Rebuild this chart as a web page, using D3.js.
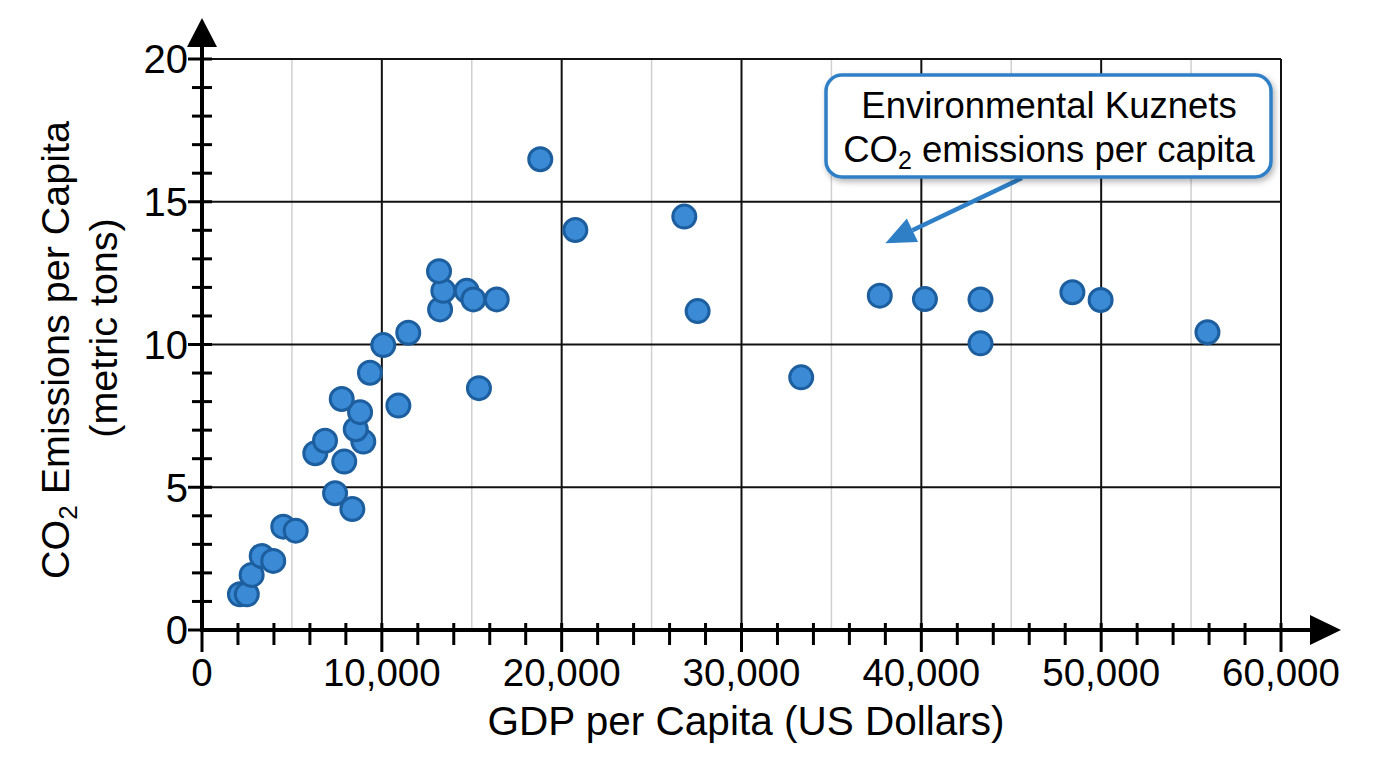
<!DOCTYPE html>
<html>
<head>
<meta charset="utf-8">
<script src="https://cdn.jsdelivr.net/npm/d3@7"></script>
<style>
  body { margin: 0; background: #fff; }
  text { font-family: "Liberation Sans", Arial, Helvetica, sans-serif; fill: #000; }
</style>
</head>
<body>
<svg id="chart" width="1376" height="768"></svg>
<script>
// GDP per capita (US$) and CO2 per capita (metric tons)
var gdp = [2110, 2490, 2760, 3320, 3960, 4520, 5210, 7400, 8360, 7910,
           6300, 6840, 8970, 8550, 8790, 7770, 10920, 9340, 10080, 11470,
           13240, 13420, 14720, 15090, 16390, 15400, 13180, 18810, 20760, 26820,
           27560, 33320, 37690, 40200, 43290, 43290, 48400, 49970, 55910];
var co2 = [1.25, 1.25, 1.93, 2.59, 2.42, 3.62, 3.48, 4.79, 4.24, 5.90,
           6.19, 6.63, 6.60, 7.03, 7.63, 8.09, 7.86, 9.01, 9.98, 10.41,
           11.23, 11.88, 11.88, 11.58, 11.58, 8.47, 12.57, 16.49, 14.01, 14.48,
           11.17, 8.85, 11.71, 11.59, 11.58, 10.04, 11.83, 11.56, 10.43];

var xMajorTicks = [0, 10000, 20000, 30000, 40000, 50000, 60000];
var xMinorTicks = d3.range(0, 60001, 2000);
var xHalfLines  = [5000, 15000, 25000, 35000, 45000, 55000];
var yMajorTicks = [0, 5, 10, 15, 20];
var yMinorTicks = d3.range(0, 21, 1);

var annotationLines = ["Environmental Kuznets", "CO", "2", " emissions per capita"];
var annotationTip = [38000, 13.55];   // where the callout arrow points

var svg = d3.select("#chart");

var x = d3.scaleLinear().domain([0, 60000]).range([202, 1281]);
var y = d3.scaleLinear().domain([0, 20]).range([630, 59]);
var fmt = d3.format(",");

// light half-step grid
svg.append("g").selectAll("line")
    .data(xHalfLines)
    .enter().append("line")
    .attr("x1", function(d) { return x(d); })
    .attr("x2", function(d) { return x(d); })
    .attr("y1", y(20)).attr("y2", y(0))
    .style("stroke", "#d0d0d0")
    .style("stroke-width", 1.5);

// major grid
svg.append("g").selectAll("line")
    .data(xMajorTicks.slice(1))
    .enter().append("line")
    .attr("x1", function(d) { return x(d); })
    .attr("x2", function(d) { return x(d); })
    .attr("y1", y(20)).attr("y2", y(0))
    .style("stroke", "#111")
    .style("stroke-width", 2);
svg.append("g").selectAll("line")
    .data(yMajorTicks.slice(1))
    .enter().append("line")
    .attr("x1", x(0)).attr("x2", x(60000))
    .attr("y1", function(d) { return y(d); })
    .attr("y2", function(d) { return y(d); })
    .style("stroke", "#111")
    .style("stroke-width", 2);

// axes lines + arrow heads
svg.append("line")
    .attr("x1", x(0)).attr("x2", 1318)
    .attr("y1", y(0)).attr("y2", y(0))
    .style("stroke", "#000").style("stroke-width", 4);
svg.append("path")
    .attr("d", "M1341," + y(0) + "L1310," + (y(0) - 15) + "L1310," + (y(0) + 15) + "Z")
    .style("fill", "#000");
svg.append("line")
    .attr("x1", x(0)).attr("x2", x(0))
    .attr("y1", y(0) + 2).attr("y2", 42)
    .style("stroke", "#000").style("stroke-width", 4);
svg.append("path")
    .attr("d", "M" + x(0) + ",18L" + (x(0) - 15) + ",47L" + (x(0) + 15) + ",47Z")
    .style("fill", "#000");

// ticks
svg.append("g").selectAll("line")
    .data(xMinorTicks)
    .enter().append("line")
    .attr("x1", function(d) { return x(d); })
    .attr("x2", function(d) { return x(d); })
    .attr("y1", y(0) - 7)
    .attr("y2", function(d) { return d % 10000 === 0 ? y(0) + 22 : y(0) + 15; })
    .style("stroke", "#000").style("stroke-width", 3);
svg.append("g").selectAll("line")
    .data(yMinorTicks)
    .enter().append("line")
    .attr("y1", function(d) { return y(d); })
    .attr("y2", function(d) { return y(d); })
    .attr("x1", function(d) { return d % 5 === 0 ? x(0) - 14 : x(0) - 10; })
    .attr("x2", x(0) + 10)
    .style("stroke", "#000").style("stroke-width", 3);

// tick labels
svg.append("g").selectAll("text")
    .data(xMajorTicks)
    .enter().append("text")
    .attr("x", function(d) { return x(d); })
    .attr("y", 686)
    .attr("text-anchor", "middle")
    .style("font-size", "38.5px")
    .text(function(d) { return fmt(d); });
svg.append("g").selectAll("text")
    .data(yMajorTicks)
    .enter().append("text")
    .attr("x", 188)
    .attr("y", function(d) { return y(d); })
    .attr("dy", "0.36em")
    .attr("text-anchor", "end")
    .style("font-size", "40px")
    .text(function(d) { return d; });

// axis titles
svg.append("text")
    .attr("x", 746).attr("y", 735)
    .attr("text-anchor", "middle")
    .style("font-size", "40.5px")
    .text("GDP per Capita (US Dollars)");

var yt = svg.append("text")
    .attr("transform", "translate(69,350) rotate(-90)")
    .attr("text-anchor", "middle")
    .style("font-size", "39.5px");
yt.append("tspan").text("CO");
yt.append("tspan").attr("dy", 8).style("font-size", "26px").text("2");
yt.append("tspan").attr("dy", -8).text(" Emissions per Capita");
svg.append("text")
    .attr("transform", "translate(117,328) rotate(-90)")
    .attr("text-anchor", "middle")
    .style("font-size", "39.5px")
    .text("(metric tons)");

// points
svg.append("g").selectAll("circle")
    .data(d3.zip(gdp, co2))
    .enter().append("circle")
    .attr("cx", function(d) { return x(d[0]); })
    .attr("cy", function(d) { return y(d[1]); })
    .attr("r", 11.5)
    .style("fill", "#3a8ad6")
    .style("stroke", "#1d5e9e")
    .style("stroke-width", 3);

// callout
var defs = svg.append("defs");
var shadow = defs.append("filter").attr("id", "shadow")
    .attr("x", "-10%").attr("y", "-20%").attr("width", "130%").attr("height", "150%");
shadow.append("feDropShadow")
    .attr("dx", 2).attr("dy", 3).attr("stdDeviation", 3)
    .attr("flood-color", "#000").attr("flood-opacity", 0.3);

var tipX = x(annotationTip[0]), tipY = y(annotationTip[1]);
var startX = 1022, startY = 178;
var ang = Math.atan2(tipY - startY, tipX - startX);
var headLen = 30, headW = 13;
var bx = tipX - headLen * Math.cos(ang), by = tipY - headLen * Math.sin(ang);
svg.append("line")
    .attr("x1", startX).attr("y1", startY)
    .attr("x2", bx).attr("y2", by)
    .style("stroke", "#2f7fc6").style("stroke-width", 4.5);
svg.append("path")
    .attr("d", "M" + tipX + "," + tipY +
        "L" + (bx + headW * Math.sin(ang)) + "," + (by - headW * Math.cos(ang)) +
        "L" + (bx - headW * Math.sin(ang)) + "," + (by + headW * Math.cos(ang)) + "Z")
    .style("fill", "#2f7fc6");

svg.append("rect")
    .attr("x", 826).attr("y", 75)
    .attr("width", 445).attr("height", 102)
    .attr("rx", 16).attr("ry", 16)
    .style("fill", "#fff")
    .style("stroke", "#2f7fc6")
    .style("stroke-width", 3.5)
    .attr("filter", "url(#shadow)");

svg.append("text")
    .attr("x", 1049).attr("y", 118)
    .attr("text-anchor", "middle")
    .style("font-size", "36.5px")
    .text(annotationLines[0]);
var a2 = svg.append("text")
    .attr("x", 1049).attr("y", 162)
    .attr("text-anchor", "middle")
    .style("font-size", "36.5px");
a2.append("tspan").text(annotationLines[1]);
a2.append("tspan").attr("dy", 7).style("font-size", "25px").text(annotationLines[2]);
a2.append("tspan").attr("dy", -7).text(annotationLines[3]);
</script>
</body>
</html>
